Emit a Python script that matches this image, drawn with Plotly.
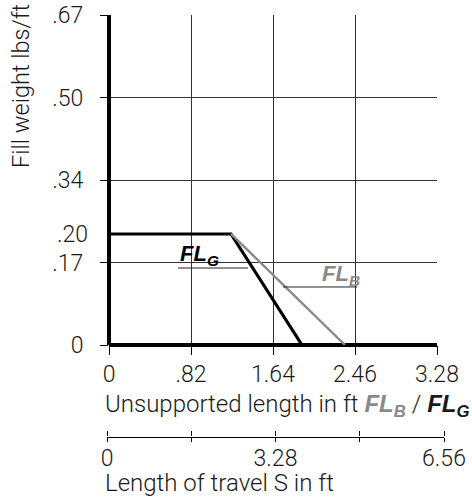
import plotly.graph_objects as go

# ---------------- data ----------------
length_ticks = [0, 0.82, 1.64, 2.46, 3.28]
length_labels = ["0", ".82", "1.64", "2.46", "3.28"]
weight_grid = [0, 0.1675, 0.335, 0.5025, 0.67]
weight_labels = ["0", ".17", ".34", ".50", ".67"]
plateau_weight = 0.2254
plateau_label = ".20"
travel_ticks = [0, 1.64, 3.28, 4.92, 6.56]
travel_labels = ["0", "", "3.28", "", "6.56"]

flg_x = [0, 1.22, 1.93]
flg_y = [plateau_weight, plateau_weight, 0]
flb_x = [1.22, 2.36]
flb_y = [plateau_weight, 0]

# label / leader positions (data coordinates)
flg_label = (0.69, 0.183)
flg_leader = ([0.69, 1.39], 0.1563)
flb_label = (2.11, 0.142)
flb_leader = ([1.74, 2.48], 0.1178)

# ---------------- layout helpers ----------------
W, H = 472, 500
ML, MR, MT, MB = 107, 28, 15, 63
PW, PH = W - ML - MR, H - MT - MB


def px(x):
    return (x - ML) / PW


def py(y):
    return (H - MB - y) / PH


FONT = "Roboto, Liberation Sans, Arial, sans-serif"
BOLDFONT = "Liberation Sans, Arial, sans-serif"
LIGHT = 300
TXT = "#1a1a1a"
GRAY = "#8a8a8a"


def tf(size, color=TXT, weight=LIGHT, family=FONT):
    return dict(family=family, size=size, color=color, weight=weight)


fig = go.Figure()
fig.add_trace(go.Scatter(x=flg_x, y=flg_y, mode="lines",
                         line=dict(color="black", width=3.2),
                         showlegend=False, hoverinfo="skip"))
fig.add_trace(go.Scatter(x=flb_x, y=flb_y, mode="lines",
                         line=dict(color=GRAY, width=2.4),
                         showlegend=False, hoverinfo="skip"))
# helper traces so overlay axes are drawn
fig.add_trace(go.Scatter(x=[0], y=[plateau_weight], xaxis="x", yaxis="y2",
                         mode="markers", marker=dict(opacity=0), showlegend=False,
                         hoverinfo="skip"))
fig.add_trace(go.Scatter(x=travel_ticks, y=[0] * len(travel_ticks), xaxis="x2", yaxis="y3",
                         mode="markers", marker=dict(opacity=0), showlegend=False,
                         hoverinfo="skip"))
fig.add_trace(go.Scatter(x=travel_ticks, y=[0] * len(travel_ticks), xaxis="x3", yaxis="y3",
                         mode="markers", marker=dict(opacity=0), showlegend=False,
                         hoverinfo="skip"))

fig.update_layout(
    width=W, height=H,
    margin=dict(l=ML, r=MR, t=MT, b=MB, autoexpand=False),
    paper_bgcolor="white", plot_bgcolor="white",
    font=tf(23),
    xaxis=dict(domain=[px(109), px(437)], range=[0, 3.28],
               tickmode="array", tickvals=length_ticks, ticktext=length_labels,
               ticks="outside", ticklen=9, tickwidth=1, tickcolor="black",
               showgrid=True, gridcolor="#333", gridwidth=1,
               zeroline=True, zerolinecolor="black", zerolinewidth=4,
               showline=False, anchor="y", automargin=False,
               ticklabelstandoff=-1, tickfont=tf(23)),
    yaxis=dict(domain=[py(345), 1], range=[0, 0.67],
               tickmode="array", tickvals=weight_grid, ticktext=weight_labels,
               ticks="outside", ticklen=8, tickwidth=1, tickcolor="black",
               showgrid=True, gridcolor="#333", gridwidth=1,
               zeroline=True, zerolinecolor="black", zerolinewidth=4,
               showline=False, anchor="x", automargin=False, ticklabelstandoff=12,
               tickfont=tf(23)),
    yaxis2=dict(overlaying="y", range=[0, 0.67], side="left", anchor="x",
                tickmode="array", tickvals=[plateau_weight], ticktext=[plateau_label],
                ticks="", showgrid=False, zeroline=False, showline=False,
                ticklabelstandoff=20, automargin=False,
                tickfont=tf(23)),
    xaxis2=dict(domain=[0, 1], range=[0, 6.56], anchor="y3",
                tickmode="array", tickvals=travel_ticks, ticktext=travel_labels,
                ticks="outside", ticklen=4, tickwidth=1, tickcolor="black",
                showline=True, linecolor="black", linewidth=1,
                showgrid=False, zeroline=False, automargin=False,
                ticklabelstandoff=-4, tickfont=tf(23)),
    xaxis3=dict(overlaying="x2", range=[0, 6.56], anchor="y3", side="top",
                tickmode="array", tickvals=travel_ticks, showticklabels=False,
                ticks="outside", ticklen=5, tickwidth=1, tickcolor="black",
                showline=False, showgrid=False, zeroline=False, automargin=False),
    yaxis3=dict(domain=[0, 0.001], visible=False, range=[-1, 1]),
)

fig.add_annotation(text="Fill weight lbs/ft", textangle=-90, xref="paper", yref="paper",
                   x=px(21), y=py(2), xanchor="center", yanchor="top", showarrow=False,
                   font=tf(23.5))
bold_style = f"font-family:{BOLDFONT};font-weight:bold"
fig.add_annotation(
    text=("Unsupported length in ft "
          f"<span style='color:{GRAY};{bold_style}'><i>FL<sub>B</sub></i></span>"
          f" / <span style='{bold_style}'><i>FL<sub>G</sub></i></span>"),
    xref="paper", yref="paper", x=px(103), y=py(405), xanchor="left", yanchor="middle",
    showarrow=False, font=tf(24))
fig.add_annotation(text="Length of travel S in ft", xref="paper", yref="paper",
                   x=px(103), y=py(483), xanchor="left", yanchor="middle",
                   showarrow=False, font=tf(24))

fig.add_annotation(text="<i>FL<sub>G</sub></i>", x=flg_label[0], y=flg_label[1],
                   xref="x", yref="y", xanchor="left", yanchor="middle", showarrow=False,
                   font=tf(22, "black", "bold", BOLDFONT))
fig.add_annotation(text="<i>FL<sub>B</sub></i>", x=flb_label[0], y=flb_label[1],
                   xref="x", yref="y", xanchor="left", yanchor="middle", showarrow=False,
                   font=tf(22, GRAY, "bold", BOLDFONT))

for xs, yv in (flg_leader, flb_leader):
    fig.add_shape(type="line", xref="x", yref="y", x0=xs[0], x1=xs[1], y0=yv, y1=yv,
                  line=dict(color="#222", width=1))

fig.write_html("out.html", config={"displayModeBar": False},
               post_script="document.body.style.margin='0';"
                           "document.body.style.overflow='hidden';")
